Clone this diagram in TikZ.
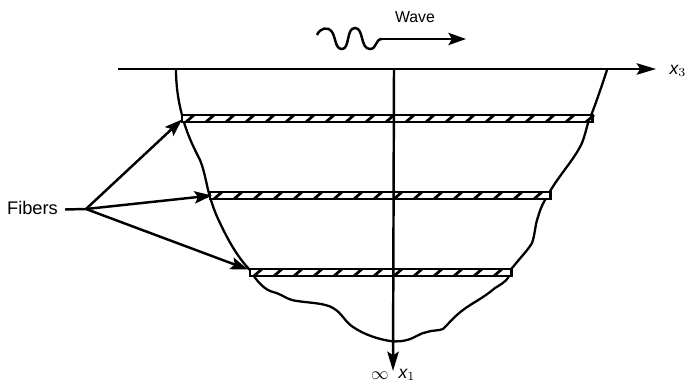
\documentclass[tikz,border=0pt]{standalone}
\usepackage{fontspec}
\setmainfont{Liberation Sans}
\usetikzlibrary{arrows.meta,positioning,calc}
\tikzset{
  axisline/.style={line width=1.4pt,-{Stealth[length=11pt,width=6.5pt,inset=2pt]}},
  leader/.style={line width=1.4pt,-{Stealth[length=10pt,width=7pt,inset=2pt]}},
  edgeline/.style={line width=1.3pt,line join=round},
  fiberband/.style={draw,line width=1.7pt,fill=white},
  lbl/.style={inner sep=0pt}
}
\begin{document}
\begin{tikzpicture}[x=0.02cm,y=-0.02cm]
  \useasboundingbox (0,0) rectangle (686,385);

  % wavy boundary of the body
  \draw[edgeline] (176,69) .. controls (176,85) and (178,100) .. (182,115)
    .. controls (187,135) and (195,150) .. (200,160)
    .. controls (205,172) and (207,188) .. (210,197)
    .. controls (213,207) and (216,215) .. (220,223)
    .. controls (228,240) and (238,258) .. (250,270)
    .. controls (257,282) and (265,290) .. (273,292)
    .. controls (282,294) and (287,300) .. (297,301)
    .. controls (310,303) and (325,303) .. (333,308)
    .. controls (342,313) and (345,322) .. (353,327)
    .. controls (365,335) and (378,339) .. (390,341)
    .. controls (398,342) and (403,341) .. (407,340)
    .. controls (415,338) and (420,333) .. (427,332)
    .. controls (433,330) and (438,331) .. (443,329)
    .. controls (450,322) and (456,315) .. (463,310)
    .. controls (472,303) and (482,299) .. (495,288)
    .. controls (500,285) and (505,282) .. (508,278)
    .. controls (510,272) and (511,268) .. (513,267)
    .. controls (520,258) and (528,250) .. (532,243)
    .. controls (535,235) and (535,225) .. (538,217)
    .. controls (540,210) and (542,205) .. (545,200)
    .. controls (548,195) and (550,191) .. (552,188)
    .. controls (562,172) and (575,158) .. (582,143)
    .. controls (585,135) and (586,130) .. (588,123)
    .. controls (589,119) and (590,118) .. (592,113)
    .. controls (597,100) and (602,85) .. (607,70);

  % fibers
  \foreach \name/\xa/\xb/\ya in {top/182/592/115,mid/210/550/192,low/250/511/269} {
    \draw[fiberband] (\xa,\ya) rectangle (\xb,\ya+7);
    \coordinate (\name) at (\xa,\ya+3.5);
    \pgfmathsetmacro{\xstart}{\xa+8}
    \pgfmathsetmacro{\xnext}{\xa+28}
    \pgfmathsetmacro{\xlast}{\xb-2}
    \foreach \t in {\xstart,\xnext,...,\xlast} {
      \draw[line width=1.6pt] (\t-4,\ya+7) -- (\t+4,\ya);
    }
  }

  % axes
  \coordinate (axisL) at (118,69);
  \coordinate (axisR) at (656,69);
  \coordinate (axisT) at (394,69);
  \coordinate (axisB) at (393,371);
  \draw[axisline] (axisL) -- (axisR);
  \draw[axisline] (axisT) -- (axisB);
  \node[lbl] (xthree) at (678,71) {$\mathit{x}_{3}$};
  \node[lbl] (inf) at (380,376) {$\infty$};
  \node[lbl] (xone) at (407,375) {$\mathit{x}_{1}$};

  % wave
  \node[lbl,font=\small] (wave) at (415,17) {Wave};
  \coordinate (waveA) at (317,35);
  \coordinate (waveB) at (382,39);
  \coordinate (waveC) at (466,39);
  \draw[line width=1.4pt] (waveA) .. controls (320,28) and (328,26) .. (332,32)
    .. controls (336,38) and (335,49) .. (342,49)
    .. controls (350,49) and (346,28) .. (355,28)
    .. controls (364,28) and (360,49) .. (370,49)
    .. controls (377,49) and (375,39) .. (waveB);
  \draw[leader] (waveB) -- (waveC);

  % leaders
  \node[lbl,font=\fontsize{10.4}{12}\selectfont] (fibers) at (32.5,208) {Fibers};
  \coordinate (hub) at (86,209);
  \draw[line width=1.4pt] (65,209.5) -- (hub);
  \draw[leader] (hub) -- ($(top)+(0,1)$);
  \draw[leader] (hub) -- ($(mid)+(2,0)$);
  \draw[leader] (hub) -- ($(low)+(-2,-3)$);
\end{tikzpicture}
\end{document}
